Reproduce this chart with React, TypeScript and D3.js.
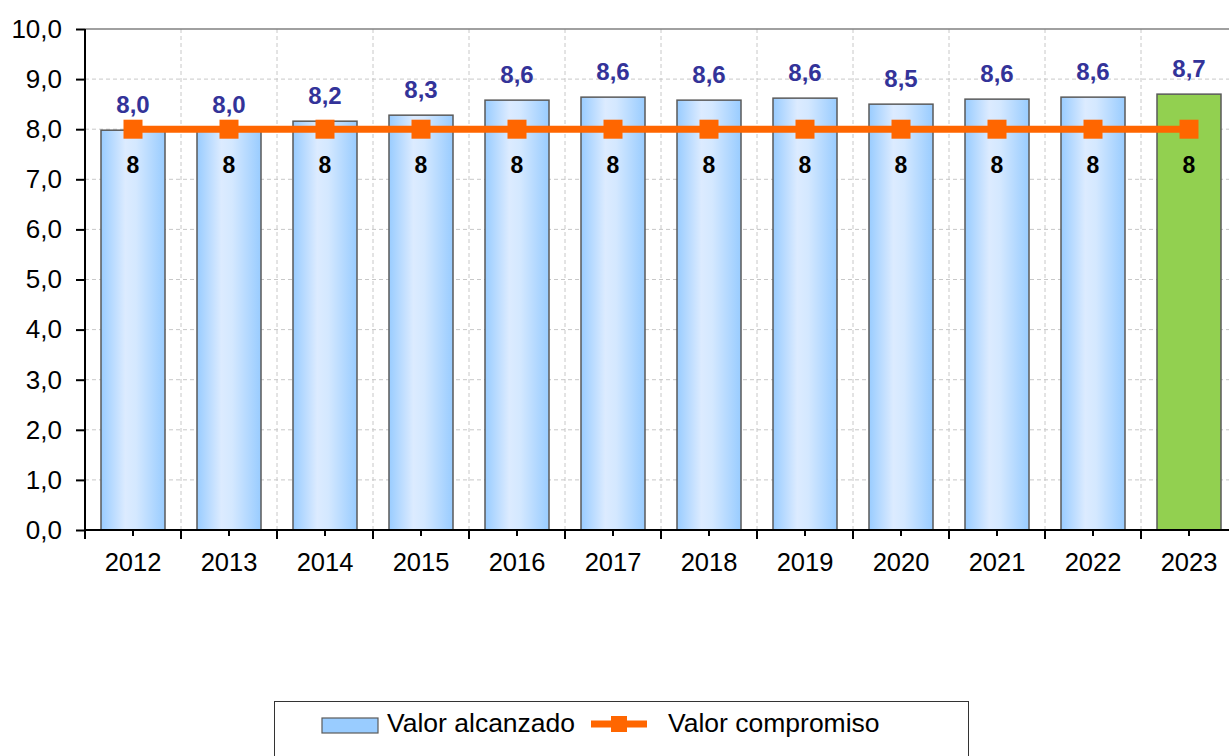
import React, { useEffect, useRef } from 'react';
import * as d3 from 'd3';

const years = ['2012', '2013', '2014', '2015', '2016', '2017', '2018', '2019', '2020', '2021', '2022', '2023'];
const achieved = [7.98, 7.98, 8.16, 8.28, 8.58, 8.64, 8.58, 8.62, 8.5, 8.6, 8.64, 8.7];
const committed = [8, 8, 8, 8, 8, 8, 8, 8, 8, 8, 8, 8];
const yTicks = [0, 1, 2, 3, 4, 5, 6, 7, 8, 9, 10];
const legendLabels = ['Valor alcanzado', 'Valor compromiso'];

const FONT = '"Liberation Sans", Arial, sans-serif';
const fmt = (v: number) => d3.format('.1f')(v).replace('.', ',');

const App: React.FC = () => {
  const svgRef = useRef<SVGSVGElement | null>(null);

  useEffect(() => {
    const svgEl = svgRef.current;
    if (!svgEl) return;
    const width = 1229;
    const height = 756;
    const left = 85;
    const right = left + 96 * years.length;
    const top = 29;
    const bottom = 530;

    const svg = d3.select(svgEl).attr('width', width).attr('height', height);
    svg.selectAll('*').remove();

    const x = d3.scaleBand<string>().domain(years).range([left, right]).paddingInner(1 / 3).paddingOuter(1 / 6);
    const y = d3.scaleLinear().domain([0, 10]).range([bottom, top]);
    const step = x.step();
    const cx = (i: number) => x(years[i])! + x.bandwidth() / 2;

    const defs = svg.append('defs');
    const grad = defs.append('linearGradient').attr('id', 'barGrad').attr('x1', '0%').attr('x2', '100%').attr('y1', '0%').attr('y2', '0%');
    grad.append('stop').attr('offset', '0%').attr('stop-color', '#99CCFF');
    grad.append('stop').attr('offset', '38%').attr('stop-color', '#DCEBFF');
    grad.append('stop').attr('offset', '55%').attr('stop-color', '#D4E8FF');
    grad.append('stop').attr('offset', '100%').attr('stop-color', '#99CCFF');

    // Gridlines
    const grid = svg.append('g');
    grid.selectAll('line.h')
      .data(yTicks.filter((t) => t > 0 && t < 10))
      .join('line')
      .attr('x1', left).attr('x2', right)
      .attr('y1', (d) => y(d)).attr('y2', (d) => y(d))
      .attr('stroke', '#C8C8C8').attr('stroke-dasharray', '4,3');
    grid.selectAll('line.v')
      .data(d3.range(1, years.length))
      .join('line')
      .attr('x1', (i) => left + i * step).attr('x2', (i) => left + i * step)
      .attr('y1', top).attr('y2', bottom)
      .attr('stroke', '#C8C8C8').attr('stroke-dasharray', '4,3');

    // top border
    svg.append('line').attr('x1', left).attr('x2', right).attr('y1', top).attr('y2', top).attr('stroke', '#808080').attr('stroke-width', 1.5);

    // Bars
    svg.append('g').selectAll('rect')
      .data(achieved)
      .join('rect')
      .attr('x', (_, i) => x(years[i])!)
      .attr('y', (d) => y(d))
      .attr('width', x.bandwidth())
      .attr('height', (d) => bottom - y(d))
      .attr('fill', (_, i) => (i === years.length - 1 ? '#92D050' : 'url(#barGrad)'))
      .attr('stroke', '#5A5A5A')
      .attr('stroke-width', 1.5);

    // Axes
    const yAxis = svg.append('g')
      .attr('transform', `translate(${left},0)`)
      .call(d3.axisLeft(y).tickValues(yTicks).tickSize(9).tickPadding(14).tickFormat((d) => fmt(d as number)));
    yAxis.selectAll('path,line').attr('stroke', '#000').attr('stroke-width', 2);
    yAxis.select('path.domain').attr('d', `M0,${bottom}V${top}`);
    yAxis.selectAll('text').attr('font-family', FONT).attr('font-size', 26).attr('fill', '#000');

    const xAxis = svg.append('g').attr('transform', `translate(0,${bottom})`);
    xAxis.append('line').attr('x1', left).attr('x2', right).attr('stroke', '#000').attr('stroke-width', 2);
    xAxis.selectAll('line.tb')
      .data(d3.range(years.length + 1))
      .join('line')
      .attr('x1', (i) => left + i * step).attr('x2', (i) => left + i * step)
      .attr('y1', 0).attr('y2', 9)
      .attr('stroke', '#000').attr('stroke-width', 2);
    xAxis.selectAll('line.tc')
      .data(years)
      .join('line')
      .attr('x1', (_, i) => cx(i)).attr('x2', (_, i) => cx(i))
      .attr('y1', 0).attr('y2', 6)
      .attr('stroke', '#000').attr('stroke-width', 2);
    xAxis.selectAll('text')
      .data(years)
      .join('text')
      .attr('x', (_, i) => cx(i))
      .attr('y', 41)
      .attr('text-anchor', 'middle')
      .attr('font-family', FONT).attr('font-size', 25.5).attr('fill', '#000')
      .text((d) => d);

    // Committed line
    const line = d3.line<number>().x((_, i) => cx(i)).y((d) => y(d));
    svg.append('path').datum(committed).attr('d', line).attr('fill', 'none').attr('stroke', '#FF6600').attr('stroke-width', 7);
    svg.append('g').selectAll('rect')
      .data(committed)
      .join('rect')
      .attr('x', (_, i) => cx(i) - 9.5)
      .attr('y', (d) => y(d) - 9.5)
      .attr('width', 19).attr('height', 19)
      .attr('fill', '#FF6600');

    // Labels
    svg.append('g').selectAll('text')
      .data(achieved)
      .join('text')
      .attr('x', (_, i) => cx(i))
      .attr('y', (d) => y(d) - 17)
      .attr('text-anchor', 'middle')
      .attr('font-family', FONT).attr('font-size', 24).attr('font-weight', 'bold').attr('fill', '#333399')
      .text((d) => fmt(d));
    svg.append('g').selectAll('text')
      .data(committed)
      .join('text')
      .attr('x', (_, i) => cx(i))
      .attr('y', (d) => y(d) + 44)
      .attr('text-anchor', 'middle')
      .attr('font-family', FONT).attr('font-size', 23).attr('font-weight', 'bold').attr('fill', '#000')
      .text((d) => String(d));

    // Legend
    const lg = svg.append('g');
    lg.append('rect').attr('x', 274.5).attr('y', 701.5).attr('width', 694).attr('height', 70).attr('fill', '#fff').attr('stroke', '#333').attr('stroke-width', 1);
    lg.append('rect').attr('x', 322).attr('y', 718).attr('width', 56).attr('height', 15).attr('fill', '#99CCFF').attr('stroke', '#5A5A5A').attr('stroke-width', 1.2);
    lg.append('text').attr('x', 387).attr('y', 732).attr('font-family', FONT).attr('font-size', 26.5).attr('fill', '#000').text(legendLabels[0]);
    lg.append('line').attr('x1', 591).attr('x2', 647).attr('y1', 724).attr('y2', 724).attr('stroke', '#FF6600').attr('stroke-width', 7);
    lg.append('rect').attr('x', 611).attr('y', 716).attr('width', 16).attr('height', 16).attr('fill', '#FF6600');
    lg.append('text').attr('x', 668).attr('y', 732).attr('font-family', FONT).attr('font-size', 26.5).attr('fill', '#000').text(legendLabels[1]);
  }, []);

  return (
    <svg ref={svgRef} style={{ position: 'absolute', left: 0, top: 0, background: '#fff' }} />
  );
};

export default App;
